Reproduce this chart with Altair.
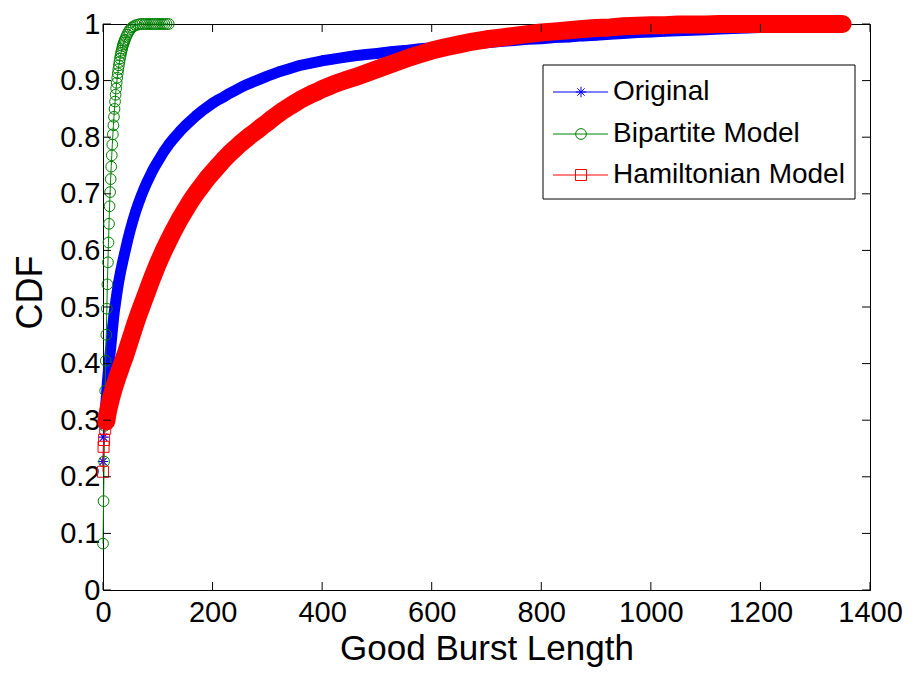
import altair as alt
import pandas as pd

# ---------------- data ----------------
orig_x = [0, 1, 2, 4, 6, 8, 10, 12, 14, 16, 18, 20, 24, 28, 32, 36, 40, 45, 50, 55, 60, 65, 70, 75,
          80, 85, 90, 95, 100, 110, 120, 130, 140, 150, 160, 170, 180, 190, 200, 210, 220, 230, 240,
          250, 260, 270, 280, 290, 300, 320, 340, 360, 380, 400, 420, 440, 460, 480, 500, 525, 550,
          575, 600, 625, 650, 675, 700, 725, 750, 775, 800, 825, 850, 875, 900, 925, 950, 975, 1000,
          1025, 1050, 1075, 1100, 1125, 1150, 1175, 1200, 1225, 1250, 1275, 1300, 1325, 1350]
orig_y = [0.227, 0.270, 0.290, 0.315, 0.340, 0.367, 0.390, 0.410, 0.427, 0.448, 0.468, 0.487, 0.515,
          0.541, 0.562, 0.580, 0.597, 0.618, 0.637, 0.654, 0.670, 0.684, 0.697, 0.709, 0.720, 0.730,
          0.740, 0.749, 0.757, 0.773, 0.787, 0.799, 0.810, 0.820, 0.829, 0.838, 0.846, 0.853, 0.860,
          0.866, 0.871, 0.877, 0.882, 0.887, 0.892, 0.896, 0.900, 0.904, 0.908, 0.915, 0.921, 0.927,
          0.931, 0.935, 0.938, 0.941, 0.944, 0.946, 0.948, 0.951, 0.953, 0.956, 0.958, 0.961, 0.963,
          0.965, 0.967, 0.969, 0.971, 0.973, 0.974, 0.976, 0.977, 0.979, 0.980, 0.982, 0.983, 0.985,
          0.986, 0.987, 0.988, 0.989, 0.990, 0.991, 0.992, 0.993, 0.994, 0.995, 0.996, 0.997, 0.998,
          0.999, 1.000]

bip_x = [0, 1, 2, 3, 4, 5, 6, 7, 8, 9, 10, 11, 12, 13, 14, 15, 16, 17, 18, 19, 20, 21, 22, 23, 24,
         25, 26, 27, 28, 29, 30, 31, 32, 33, 34, 35, 36, 37, 38, 39, 40, 42, 44, 46, 48, 50, 53, 56,
         60, 64, 68, 72, 76, 80, 84, 88, 92, 96, 100, 104, 108, 112, 116, 120]
bip_y = [0.082, 0.157, 0.227, 0.290, 0.352, 0.405, 0.451, 0.497, 0.540, 0.579, 0.614, 0.647, 0.678,
         0.703, 0.726, 0.748, 0.768, 0.787, 0.805, 0.821, 0.836, 0.850, 0.863, 0.875, 0.886, 0.896,
         0.905, 0.913, 0.920, 0.927, 0.933, 0.939, 0.944, 0.949, 0.953, 0.957, 0.961, 0.964, 0.967,
         0.970, 0.972, 0.977, 0.981, 0.985, 0.988, 0.991, 0.994, 0.996, 0.998, 0.999, 1.000, 1.000,
         1.000, 1.000, 1.000, 1.000, 1.000, 1.000, 1.000, 1.000, 1.000, 1.000, 1.000, 1.000]

ham_x = [0, 1, 2, 4, 6, 8, 10, 15, 20, 25, 30, 35, 40, 45, 50, 55, 60, 65, 70, 75, 80, 85, 90, 95,
         100, 110, 120, 130, 140, 150, 160, 170, 180, 190, 200, 210, 220, 230, 240, 250, 260, 270,
         280, 290, 300, 310, 320, 330, 340, 350, 360, 370, 380, 390, 400, 420, 440, 460, 480, 500,
         520, 540, 560, 580, 600, 625, 650, 675, 700, 725, 750, 775, 800, 825, 850, 875, 900, 925,
         950, 975, 1000, 1025, 1050, 1075, 1100, 1125, 1150, 1175, 1200, 1225, 1250, 1275, 1300,
         1325, 1350]
ham_y = [0.209, 0.253, 0.265, 0.285, 0.298, 0.310, 0.320, 0.340, 0.357, 0.372, 0.386, 0.400, 0.413,
         0.428, 0.443, 0.458, 0.473, 0.487, 0.500, 0.513, 0.526, 0.539, 0.552, 0.564, 0.576, 0.598,
         0.618, 0.637, 0.655, 0.671, 0.687, 0.701, 0.714, 0.727, 0.738, 0.749, 0.760, 0.770, 0.779,
         0.788, 0.796, 0.804, 0.811, 0.819, 0.826, 0.834, 0.841, 0.848, 0.854, 0.860, 0.866, 0.871,
         0.876, 0.880, 0.885, 0.893, 0.900, 0.906, 0.913, 0.920, 0.927, 0.934, 0.941, 0.947, 0.953,
         0.959, 0.964, 0.969, 0.973, 0.976, 0.979, 0.982, 0.985, 0.987, 0.989, 0.991, 0.993, 0.994,
         0.996, 0.997, 0.998, 0.998, 0.999, 0.999, 0.999, 1.000, 1.000, 1.000, 1.000, 1.000, 1.000,
         1.000, 1.000, 1.000, 1.000]

x_ticks = [0, 200, 400, 600, 800, 1000, 1200, 1400]
y_ticks = [0, 0.1, 0.2, 0.3, 0.4, 0.5, 0.6, 0.7, 0.8, 0.9, 1.0]

series_names = ["Original", "Bipartite Model", "Hamiltonian Model"]
series_colors = ["#0000ff", "#008000", "#ff0000"]

# ---------------- styling ----------------
W, H = 767, 566
FONT = "Liberation Sans"
ASTERISK = "M-1,0L1,0M0,-1L0,1M-0.7,-0.7L0.7,0.7M-0.7,0.7L0.7,-0.7"
TICK = 8

xs = alt.Scale(domain=[0, 1400], nice=False, zero=False)
ys = alt.Scale(domain=[0, 1], nice=False, zero=False)

orig = pd.DataFrame({"x": orig_x, "y": orig_y})
bip = pd.DataFrame({"x": bip_x, "y": bip_y})
ham = pd.DataFrame({"x": ham_x, "y": ham_y})
xt = pd.DataFrame({"v": x_ticks})
yt = pd.DataFrame({"v": y_ticks})

x_axis = alt.Axis(values=x_ticks, format="d", tickSize=0, ticks=False, grid=False,
                  labelFontSize=29, labelFont=FONT, labelColor="black", labelPadding=8,
                  labelFlush=False, labelOverlap=False,
                  domainColor="black", domainWidth=1,
                  title="Good Burst Length", titleFontSize=35, titleFont=FONT,
                  titleFontWeight="normal", titleColor="black",
                  titleBaseline="alphabetic", titleY=69)
y_axis = alt.Axis(values=y_ticks, format=".1~f", tickSize=0, ticks=False, grid=False,
                  labelFontSize=29, labelFont=FONT, labelColor="black", labelPadding=3,
                  labelFlush=False, labelOverlap=False,
                  domainColor="black", domainWidth=1,
                  title="CDF", titleFontSize=36, titleFont=FONT, titleFontWeight="normal",
                  titleColor="black", titleAngle=270, titleBaseline="alphabetic",
                  titleX=-62, titleY=268, titleAlign="center")


def X(field="x"):
    return alt.X(f"{field}:Q", scale=xs, axis=x_axis)


def Y(field="y"):
    return alt.Y(f"{field}:Q", scale=ys, axis=y_axis)


# Original (blue): thick band + asterisks
blue_band = alt.Chart(orig).transform_filter(alt.datum.x >= 4).mark_line(
    color=series_colors[0], strokeWidth=11, strokeCap="round", strokeJoin="round"
).encode(x=X(), y=Y())
blue_line = alt.Chart(orig).mark_line(color=series_colors[0], strokeWidth=1).encode(x=X(), y=Y())
blue_pts = alt.Chart(orig).mark_point(
    shape=ASTERISK, size=110, color=series_colors[0], strokeWidth=1.2, filled=False, opacity=1
).encode(x=X(), y=Y())

# Bipartite (green): thin line + circles
green_line = alt.Chart(bip).mark_line(color=series_colors[1], strokeWidth=1).encode(x=X(), y=Y())
green_pts = alt.Chart(bip).mark_point(
    shape="circle", size=115, color=series_colors[1], strokeWidth=1, filled=False, opacity=1
).encode(x=X(), y=Y())

# Hamiltonian (red): thick band + squares
red_band = alt.Chart(ham).transform_filter(alt.datum.x >= 6).mark_line(
    color=series_colors[2], strokeWidth=18, strokeCap="round", strokeJoin="round"
).encode(x=X(), y=Y())
red_line = alt.Chart(ham).mark_line(color=series_colors[2], strokeWidth=1).encode(x=X(), y=Y())
red_pts = alt.Chart(ham).mark_point(
    shape="square", size=121, color=series_colors[2], strokeWidth=1, filled=False, opacity=1
).encode(x=X(), y=Y())

# inward ticks on all four sides (MATLAB box style)
tick_bottom = alt.Chart(xt).mark_rule(color="black", strokeWidth=1).encode(
    x=X("v"), y=alt.value(H), y2=alt.value(H - TICK))
tick_top = alt.Chart(xt).mark_rule(color="black", strokeWidth=1).encode(
    x=X("v"), y=alt.value(0), y2=alt.value(TICK))
tick_left = alt.Chart(yt).mark_rule(color="black", strokeWidth=1).encode(
    y=Y("v"), x=alt.value(0), x2=alt.value(TICK))
tick_right = alt.Chart(yt).mark_rule(color="black", strokeWidth=1).encode(
    y=Y("v"), x=alt.value(W), x2=alt.value(W - TICK))

# legend (drawn by hand, MATLAB style)
leg_df = pd.DataFrame({"s": ["box"]})
leg_box = alt.Chart(leg_df).mark_rect(fill="white", stroke="black", strokeWidth=1).encode(
    x=alt.value(440), x2=alt.value(752), y=alt.value(41), y2=alt.value(175))

leg_rows = []
row_y = [68, 110, 151]
shapes = [ASTERISK, "circle", "square"]
sizes = [110, 115, 121]
for name, col, yy, shp, sz in zip(series_names, series_colors, row_y, shapes, sizes):
    d = pd.DataFrame({"name": [name]})
    leg_rows.append(alt.Chart(d).mark_rule(color=col, strokeWidth=1).encode(
        x=alt.value(450), x2=alt.value(505), y=alt.value(yy)))
    leg_rows.append(alt.Chart(d).mark_point(
        shape=shp, size=sz, color=col, filled=False, strokeWidth=1, opacity=1).encode(
        x=alt.value(478), y=alt.value(yy)))
    leg_rows.append(alt.Chart(d).mark_text(
        align="left", baseline="middle", font=FONT, fontSize=28, color="black").encode(
        x=alt.value(510), y=alt.value(yy), text="name:N"))

chart = alt.layer(
    blue_band, blue_line, blue_pts,
    green_line, green_pts,
    red_band, red_line, red_pts,
    tick_bottom, tick_top, tick_left, tick_right,
    leg_box, *leg_rows
).properties(
    width=W, height=H,
    autosize=alt.AutoSizeParams(type="none"),
    padding={"left": 95, "top": 16, "right": 36, "bottom": 77},
    background="white",
).configure(font=FONT).configure_view(stroke="black", strokeWidth=1)

chart.save("out.html", embed_options={"renderer": "svg", "actions": False})
